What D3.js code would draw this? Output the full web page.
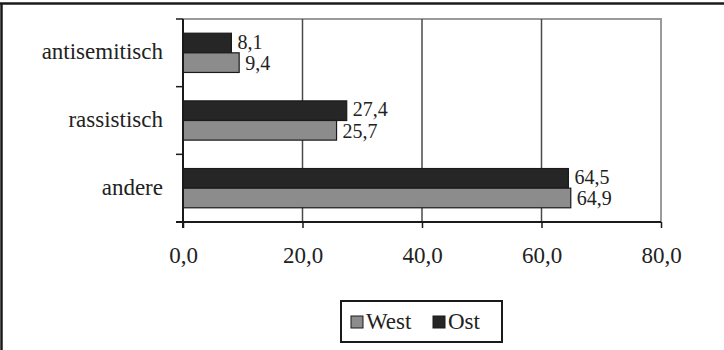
<!DOCTYPE html>
<html>
<head>
<meta charset="utf-8">
<script src="https://cdn.jsdelivr.net/npm/d3@7/dist/d3.min.js"></script>
<style>
  html, body { margin: 0; padding: 0; background: #fff; }
  svg { display: block; }
  text { font-family: "Liberation Serif", "Times New Roman", serif; fill: #222; }
</style>
</head>
<body>
<svg id="chart" width="724" height="350"></svg>
<script>
// Categories (top to bottom) and the two series
const categories = ["antisemitisch", "rassistisch", "andere"];
const seriesNames = ["West", "Ost"];
const westValues = [9.4, 25.7, 64.9];
const ostValues = [8.1, 27.4, 64.5];
const xTicks = [0, 20, 40, 60, 80];

const colors = { West: "#8c8c8c", Ost: "#262626" };

const svg = d3.select("#chart");
const W = 724, H = 350;
const m = { left: 183, right: 661, top: 19, bottom: 222 };

// outer frame (top and left edges)
svg.append("line").attr("x1", 0).attr("x2", W).attr("y1", 3.5).attr("y2", 3.5)
  .attr("stroke", "#1a1a1a").attr("stroke-width", 2.5);
svg.append("line").attr("x1", 1.5).attr("x2", 1.5).attr("y1", 3).attr("y2", H)
  .attr("stroke", "#1a1a1a").attr("stroke-width", 2.5);

const x = d3.scaleLinear().domain([0, 80]).range([m.left, m.right]);
const y = d3.scaleBand().domain(categories).range([m.top, m.bottom]).paddingInner(0.42).paddingOuter(0.21);
const ySub = d3.scaleBand().domain(["Ost", "West"]).range([0, y.bandwidth()]);

const fmt = v => d3.format(".1f")(v).replace(".", ",");

// plot frame: top and right edges in light gray
svg.append("path")
  .attr("d", `M${m.left},${m.top}H${m.right}V${m.bottom}`)
  .attr("fill", "none").attr("stroke", "#9a9a9a").attr("stroke-width", 2);

// vertical gridlines
svg.append("g").selectAll("line").data(xTicks.filter(t => t > 0 && t < 80)).join("line")
  .attr("x1", d => x(d)).attr("x2", d => x(d))
  .attr("y1", m.top).attr("y2", m.bottom)
  .attr("stroke", "#4a4a4a").attr("stroke-width", 1.5);

// bars with value labels
const rows = categories.map((c, i) => ({ cat: c, West: westValues[i], Ost: ostValues[i] }));
const g = svg.append("g");
rows.forEach(r => {
  ["Ost", "West"].forEach(s => {
    const y0 = y(r.cat) + ySub(s);
    g.append("rect")
      .attr("x", x(0)).attr("y", y0)
      .attr("width", x(r[s]) - x(0)).attr("height", ySub.bandwidth())
      .attr("fill", colors[s]).attr("stroke", "#1a1a1a").attr("stroke-width", 1.2);
    g.append("text")
      .attr("x", x(r[s]) + 6)
      .attr("y", y0 + ySub.bandwidth() / 2 + (s === "Ost" ? -1.5 : 0.5))
      .attr("dominant-baseline", "central")
      .attr("font-size", 20)
      .text(fmt(r[s]));
  });
});

// x axis
const xAxis = d3.axisBottom(x).tickValues(xTicks).tickFormat(fmt).tickSize(6).tickPadding(19);
const gx = svg.append("g").attr("transform", `translate(0,${m.bottom})`).call(xAxis);
gx.select(".domain").attr("stroke", "#1a1a1a").attr("stroke-width", 2)
  .attr("d", `M${m.left - 7},0H${m.right}`);
gx.selectAll(".tick line").attr("stroke", "#1a1a1a").attr("stroke-width", 1.5);
gx.selectAll(".tick text").attr("font-size", 23).attr("font-family", "Liberation Serif").attr("fill", "#222");

// y axis: line with ticks at band boundaries, labels at band centers
svg.append("line").attr("x1", m.left).attr("x2", m.left).attr("y1", m.top).attr("y2", m.bottom + 6)
  .attr("stroke", "#1a1a1a").attr("stroke-width", 2);
const bounds = d3.range(categories.length + 1).map(i => m.top + i * y.step());
svg.append("g").selectAll("line").data(bounds).join("line")
  .attr("x1", m.left - 7).attr("x2", m.left).attr("y1", d => d).attr("y2", d => d)
  .attr("stroke", "#1a1a1a").attr("stroke-width", 1.5);
svg.append("g").selectAll("text").data(categories).join("text")
  .attr("x", m.left - 20).attr("y", d => y(d) + y.bandwidth() / 2 - 1)
  .attr("text-anchor", "end").attr("dominant-baseline", "central")
  .attr("font-size", 23)
  .text(d => d);

// legend
const lg = svg.append("g");
lg.append("rect").attr("x", 341).attr("y", 301).attr("width", 161).attr("height", 41)
  .attr("fill", "#fff").attr("stroke", "#1a1a1a").attr("stroke-width", 2);
const legendItems = [{ name: "West", sx: 351, tx: 366 }, { name: "Ost", sx: 433, tx: 448 }];
legendItems.forEach(it => {
  lg.append("rect").attr("x", it.sx).attr("y", 316).attr("width", 12).attr("height", 12)
    .attr("fill", colors[it.name]).attr("stroke", "#1a1a1a").attr("stroke-width", 1);
  lg.append("text").attr("x", it.tx).attr("y", 329).attr("font-size", 23).text(it.name);
});
</script>
</body>
</html>
